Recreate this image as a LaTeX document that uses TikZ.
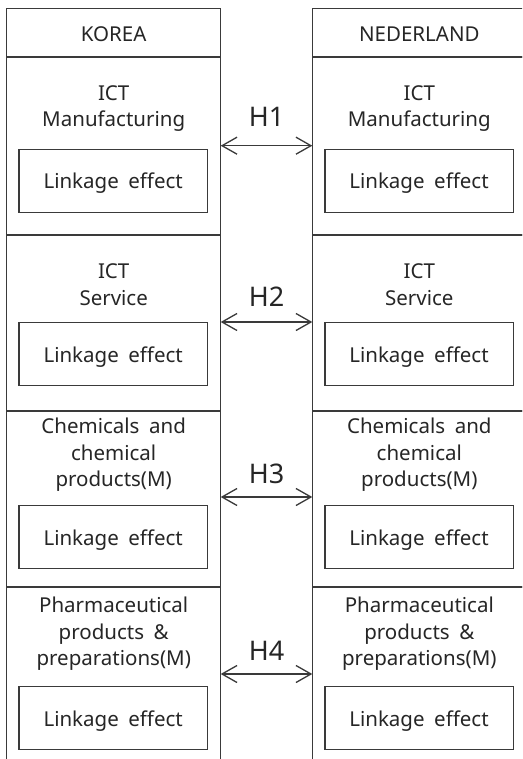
\documentclass[tikz,border=0pt]{standalone}
\usepackage{fontspec}
\setmainfont{Noto Sans}[WordSpace=1.8]
\usetikzlibrary{arrows.meta}
\definecolor{ln}{HTML}{3A3A3A}
\definecolor{tx}{HTML}{262626}
\tikzset{
  cell/.style={draw=ln,line width=1.3pt,minimum width=214pt,inner sep=0pt,outer sep=0pt},
  lbox/.style={draw=ln,line width=1.3pt,minimum width=188.3pt,minimum height=63pt,inner sep=0pt,outer sep=0pt},
  lbl/.style={font=\fontsize{20.5}{26}\selectfont,text=tx,anchor=base,inner sep=0pt},
  hlbl/.style={font=\fontsize{27}{32}\selectfont,text=tx,anchor=base,inner sep=0pt},
  link/.style={draw=ln,line width=1.3pt,{Straight Barb[length=15pt,width=17pt]}-{Straight Barb[length=15pt,width=17pt]}}
}
\newcommand\pairline[3]{%
  \node[lbl] (k#1) at (113.7,#2) {#3};
  \node[lbl] (n#1) at (419.3,#2) {#3};}
\begin{document}
\begin{tikzpicture}[x=1pt,y=-1pt]
\useasboundingbox (0,0) rectangle (522,759);
\fill[white] (0,0) rectangle (522,759);
\clip (0,0) rectangle (522,759);
% column cells
\node[cell,minimum height=48.7pt] (kh) at (113.7,32.65) {};
\node[cell,minimum height=48.7pt] (nh) at (419.3,32.65) {};
\node[cell,minimum height=178pt] (ks1) at (113.7,146) {};
\node[cell,minimum height=178pt] (ns1) at (419.3,146) {};
\node[cell,minimum height=176pt] (ks2) at (113.7,323) {};
\node[cell,minimum height=176pt] (ns2) at (419.3,323) {};
\node[cell,minimum height=176pt] (ks3) at (113.7,499) {};
\node[cell,minimum height=176pt] (ns3) at (419.3,499) {};
\node[cell,minimum height=183pt] (ks4) at (113.7,678.5) {};
\node[cell,minimum height=183pt] (ns4) at (419.3,678.5) {};
% headers
\node[lbl] (kt) at (113.7,42) {KOREA};
\node[lbl] (nt) at (419.3,42) {NEDERLAND};
% section titles
\pairline{a1}{100.7}{ICT}
\pairline{a2}{126.5}{Manufacturing}
\pairline{b1}{278}{ICT}
\pairline{b2}{305}{Service}
\pairline{c1}{433}{Chemicals and}
\pairline{c2}{460}{chemical}
\pairline{c3}{486}{products(M)}
\pairline{d1}{612.7}{Pharmaceutical}
\pairline{d2}{639}{products \&}
\pairline{d3}{665}{preparations(M)}
% linkage boxes
\foreach \i/\y in {1/181,2/354,3/537,4/718}{
  \node[lbox] (kb\i) at (113.2,\y) {};
  \node[lbox] (nb\i) at (419,\y) {};
  \node[lbl] (kl\i) at (113.2,\y+8) {Linkage effect};
  \node[lbl] (nl\i) at (419,\y+8) {Linkage effect};
}
% hypotheses
\coordinate (a1) at (266.5,145.7);
\coordinate (a2) at (266.5,322);
\coordinate (a3) at (266.5,497);
\coordinate (a4) at (266.5,674);
\draw[link] (ks1.east |- a1) -- (ns1.west |- a1);
\draw[link] (ks2.east |- a2) -- (ns2.west |- a2);
\draw[link] (ks3.east |- a3) -- (ns3.west |- a3);
\draw[link] (ks4.east |- a4) -- (ns4.west |- a4);
\node[hlbl] (h1) at (266.5,126.7) {H1};
\node[hlbl] (h2) at (266.5,306) {H2};
\node[hlbl] (h3) at (266.5,483) {H3};
\node[hlbl] (h4) at (266.5,660) {H4};
\end{tikzpicture}
\end{document}
